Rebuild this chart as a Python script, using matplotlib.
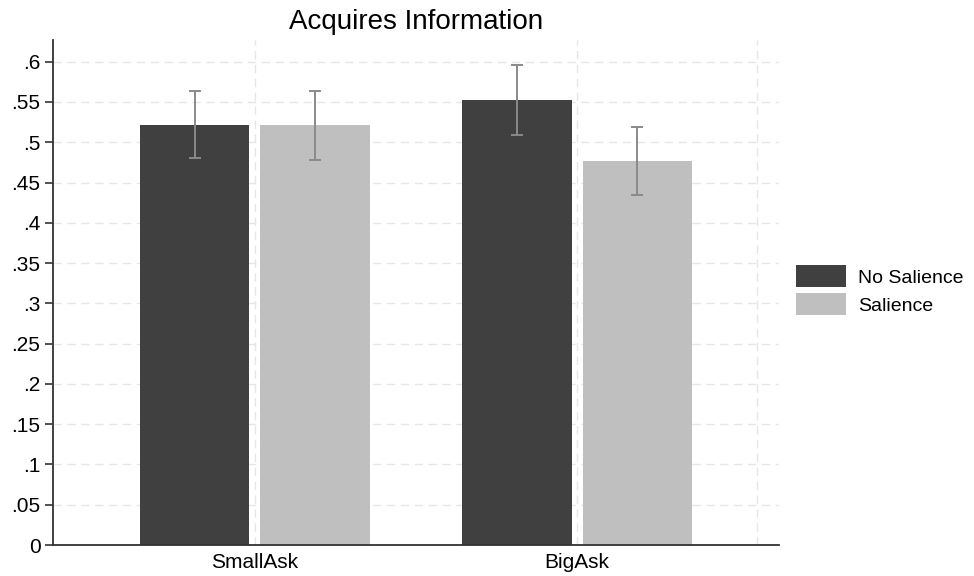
import numpy as np
import matplotlib.pyplot as plt

plt.rcParams['font.family'] = ['Liberation Sans', 'DejaVu Sans']

# Dados do gráfico
grupos = ["SmallAsk", "BigAsk"]
series = ["No Salience", "Salience"]
medias = {
    "No Salience": [0.522, 0.553],
    "Salience": [0.522, 0.477],
}
ic_inferior = {
    "No Salience": [0.480, 0.509],
    "Salience": [0.478, 0.435],
}
ic_superior = {
    "No Salience": [0.564, 0.596],
    "Salience": [0.564, 0.519],
}
cores = {"No Salience": "#404040", "Salience": "#bfbfbf"}
ticks_y = [0, .05, .1, .15, .2, .25, .3, .35, .4, .45, .5, .55, .6]
rotulos_y = ["0", ".05", ".1", ".15", ".2", ".25", ".3", ".35", ".4", ".45", ".5", ".55", ".6"]

fig = plt.figure(figsize=(9.74, 5.76), dpi=100)
ax = fig.add_axes([0.0544, 0.0538, 0.7454, 0.8768])

x = np.arange(len(grupos))
largura = 0.34
deslocamentos = [-0.187, 0.187]

for serie, desl in zip(series, deslocamentos):
    m = np.array(medias[serie])
    lo = np.array(ic_inferior[serie])
    hi = np.array(ic_superior[serie])
    ax.bar(x + desl, m, width=largura, color=cores[serie], label=serie, zorder=2)
    ax.errorbar(x + desl, m, yerr=[m - lo, hi - m], fmt='none', ecolor='#8a8a8a',
                elinewidth=1.4, capsize=4, capthick=1.4, zorder=3)

# Grade tracejada clara
for yv in ticks_y[1:]:
    ax.axhline(yv, color='#e6e6e6', linestyle=(0, (6, 4)), linewidth=1, zorder=0)
for xv in [0, 1, 1.56]:
    ax.axvline(xv, color='#e6e6e6', linestyle=(0, (6, 4)), linewidth=1, zorder=0)

ax.set_xlim(-0.627, 1.627)
ax.set_ylim(0, 0.627)
ax.set_xticks(x)
ax.set_xticklabels(grupos, fontsize=15)
ax.tick_params(axis='x', length=0, pad=6)
ax.set_yticks(ticks_y)
ax.set_yticklabels(rotulos_y, fontsize=15)
ax.tick_params(axis='y', length=6, width=1.2, color='#333333', pad=3)

ax.spines['top'].set_visible(False)
ax.spines['right'].set_visible(False)
for lado in ['left', 'bottom']:
    ax.spines[lado].set_color('#333333')
    ax.spines[lado].set_linewidth(1.3)

ax.set_title("Acquires Information", fontsize=20, pad=8)

fig.legend(loc='upper left', bbox_to_anchor=(0.809, 0.553), frameon=False,
           fontsize=14, handlelength=2.58, handleheight=1.38, handletextpad=0.62,
           labelspacing=0.3, borderaxespad=0)

fig.savefig("out.png", dpi=100)
